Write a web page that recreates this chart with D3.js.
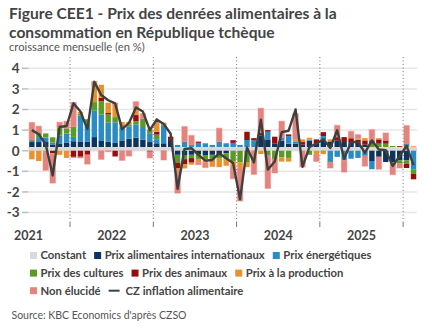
<!DOCTYPE html>
<html>
<head>
<meta charset="utf-8">
<script src="https://cdn.jsdelivr.net/npm/d3@7/dist/d3.min.js"></script>
<style>
body { margin: 0; background: #fff; }
svg { display: block; font-family: Lato, "Open Sans", sans-serif; }
</style>
</head>
<body>
<svg id="chart" width="432" height="334"></svg>
<script>
// monthly contributions to CZ food inflation, Jul 2021 - Feb 2026
var months = ['2021-07','2021-08','2021-09','2021-10','2021-11','2021-12',
    '2022-01','2022-02','2022-03','2022-04','2022-05','2022-06','2022-07','2022-08','2022-09','2022-10','2022-11','2022-12',
    '2023-01','2023-02','2023-03','2023-04','2023-05','2023-06','2023-07','2023-08','2023-09','2023-10','2023-11','2023-12',
    '2024-01','2024-02','2024-03','2024-04','2024-05','2024-06','2024-07','2024-08','2024-09','2024-10','2024-11','2024-12',
    '2025-01','2025-02','2025-03','2025-04','2025-05','2025-06','2025-07','2025-08','2025-09','2025-10','2025-11','2025-12',
    '2026-01','2026-02'];

var constant = [0.18,0.18,0.18,0.18,0.18,0.18,
    0.18,0.18,0.18,0.18,0.18,0.18,0.18,0.18,0.18,0.18,0.18,0.18,
    0.18,0.18,0.18,0.18,0.18,0.18,0.18,0.18,0.18,0.18,0.18,0.18,
    0.18,0.18,0.18,0.18,0.18,0.18,0.18,0.18,0.18,0.18,0.18,0.18,
    0.18,0.18,0.18,0.18,0.18,0.18,0.18,0.18,0.18,0.18,0.18,0.18,
    0.18,0.18];
var intlFood = [0.24,0.24,0.24,0.1,0.15,0.2,
    0.28,0.27,0.25,0.48,0.32,0.25,0.2,0.32,0.4,0.45,0.35,0.24,
    0.18,0.18,0.29,-0.2,-0.21,-0.2,-0.16,-0.21,-0.2,-0.16,-0.13,0,
    0,0,0,0.55,0.37,0.16,0.3,0.16,0.16,0.11,0.3,0.16,
    0.32,0.27,0.32,0.24,0.24,0.2,0.11,-0.5,-0.3,-0.55,-0.55,-0.47,
    -0.47,0];
var energy = [0.05,0.24,0.22,0.12,0.4,0.45,
    0.21,1.26,0.9,1.3,1.25,0.93,1.0,0.65,0.6,0.65,0.62,0.4,
    0.2,0.88,0,0.1,0.26,0.1,0.2,0.18,0.1,0.26,0.18,0.2,
    0.1,0.34,0.32,0,0.37,0,0.15,0.37,0.11,0,0.05,0,
    0.21,-0.55,-0.3,-0.47,-0.39,-0.35,-0.25,-0.4,0,0,0,0,
    0.15,-0.9];
var crops = [0.05,0.2,0.2,0.25,0.4,0.25,
    0.49,0.1,0.2,0.4,0.65,0.4,0.25,0,0.1,0.15,0.4,0.2,
    0.22,0,0,-0.38,-0.2,-0.16,-0.24,-0.2,-0.2,-0.2,-0.28,-0.5,
    -0.57,-0.55,0,0,-0.24,-0.4,-0.32,-0.35,0,0,-0.2,0,
    -0.05,0,0,0,0,0,0,0.16,0.16,0.16,0.05,-0.16,
    -0.16,-0.23];
var animals = [0,0,0,-0.12,0,0,
    -0.3,-0.3,-0.2,0,0.16,0.07,-0.28,0,0,0.3,0,-0.05,
    0.14,0,0.21,-0.26,-0.24,-0.22,0.06,0,0,0,0,0.13,
    0,0.4,0.11,0.15,0.08,0.34,0,0.08,0,0.13,0,0.21,
    0.19,0,0.16,0.24,0.19,0.15,0.21,0.16,0.21,0.16,0,0.04,
    -0.21,-0.26];
var production = [-0.42,-0.5,-0.1,-0.05,-0.2,-0.35,
    -0.05,0.07,0,0.8,0.64,0.5,0.6,0.24,0.12,0.3,0,0.05,
    0.5,0.12,0,-0.12,-0.21,-0.1,-0.16,-0.16,-0.38,-0.44,-0.32,-0.24,
    -0.32,-0.25,0,-0.16,0,0,-0.21,-0.18,0.1,0.13,0.1,-0.2,
    -0.12,0.1,0,0,0,0.05,0.11,0,0.06,0,-0.08,0,
    0,0.04];
var unexplained = [0.85,0.33,-0.85,-1.4,0.25,0.35,
    1.18,-0.05,-0.45,0.2,-0.42,-0.05,0.08,-0.47,-0.26,0.35,0.25,-0.3,
    0,-0.45,0,-1.1,0.73,0.46,-0.12,-0.25,0,0.65,0,-0.62,
    -1.55,0,-1.15,1.18,-1.59,-0.68,0.8,0,1.25,-0.79,0,-0.32,
    0,-0.29,0.57,-0.57,0.33,0.2,-0.5,0.52,-0.6,0.36,-0.53,-0.21,
    0.89,0];
var czInflation = [1.0,0.8,0.3,-1.2,1.15,1.2,
    2.3,1.9,1.05,3.35,2.7,2.45,2.3,1.05,1.35,2.1,1.9,1.0,
    1.52,1.3,0.82,-1.85,0.08,0.12,-0.2,-0.48,-0.45,-0.12,-0.37,-0.6,
    -2.36,0.15,-0.57,1.5,-0.92,-0.52,0.9,0.97,2.0,-0.79,0.18,0.34,
    0.55,0.13,0.99,-0.39,0.42,0.42,-0.1,0.5,0.06,0.02,-0.74,-0.26,
    0.23,-0.7];

var yTicks = [-3, -2, -1, 0, 1, 2, 3, 4];
var years = ['2021', '2022', '2023', '2024', '2025'];
var yearBreaks = ['2022-01', '2023-01', '2024-01', '2025-01', '2026-01'];

var seriesKeys = ['constant', 'intl', 'energy', 'crops', 'animals', 'production', 'unexplained'];
var seriesNames = ['Constant', 'Prix alimentaires internationaux', 'Prix énergétiques',
    'Prix des cultures', 'Prix des animaux', 'Prix à la production', 'Non élucidé'];
var seriesColors = ['#d9d9d9', '#0b3461', '#2a8cc2', '#5b9a25', '#960d0d', '#e8922e', '#e3847e'];
var lineName = 'CZ inflation alimentaire';

var textColor = '#444';

var rows = months.map(function(m, i) {
    return {
        month: m,
        constant: constant[i],
        intl: intlFood[i],
        energy: energy[i],
        crops: crops[i],
        animals: animals[i],
        production: production[i],
        unexplained: unexplained[i],
        total: czInflation[i]
    };
});

var svg = d3.select('#chart');

var x = d3.scaleBand().domain(months).range([28.4, 417]).paddingInner(0.22).paddingOuter(0.11);
var y = d3.scaleLinear().domain([-3.5, 4.5]).range([222.8, 58]);
var color = d3.scaleOrdinal().domain(seriesKeys).range(seriesColors);

// left edge of a month slot (between two bars)
function slotStart(m) {
    return x(m) - x.step() * 0.11;
}

// title block
var head = svg.append('g').attr('fill', textColor);
head.append('text').attr('x', 9).attr('y', 19)
    .attr('font-size', 15.6).attr('font-weight', 'bold')
    .text('Figure CEE1 - Prix des denrées alimentaires à la');
head.append('text').attr('x', 9).attr('y', 37.5)
    .attr('font-size', 15.6).attr('font-weight', 'bold')
    .text('consommation en République tchèque');
head.append('text').attr('x', 9).attr('y', 51)
    .attr('font-size', 11.2).attr('fill', '#555')
    .text('croissance mensuelle (en %)');

// gridlines + y labels
var grid = svg.append('g');
grid.selectAll('line.grid').data(yTicks).enter().append('line')
    .attr('class', 'grid')
    .attr('x1', 28.4).attr('x2', 417)
    .attr('y1', function(d) { return y(d); }).attr('y2', function(d) { return y(d); })
    .attr('stroke', '#e6e6e6').attr('stroke-width', 1.5);
grid.selectAll('line.tick').data(yTicks).enter().append('line')
    .attr('class', 'tick')
    .attr('x1', 22).attr('x2', 28.4)
    .attr('y1', function(d) { return y(d); }).attr('y2', function(d) { return y(d); })
    .attr('stroke', '#bdbdbd').attr('stroke-width', 1.5);
grid.selectAll('text').data(yTicks).enter().append('text')
    .attr('x', 19.5).attr('y', function(d) { return y(d); }).attr('dy', '0.36em')
    .attr('text-anchor', 'end').attr('font-size', 13.5).attr('font-weight', 'bold')
    .attr('fill', textColor)
    .text(function(d) { return d; });

// year separators
var xAxis = svg.append('g');
xAxis.selectAll('line.sep').data(yearBreaks).enter().append('line')
    .attr('class', 'sep')
    .attr('x1', slotStart).attr('x2', slotStart)
    .attr('y1', 57).attr('y2', 222)
    .attr('stroke', '#777').attr('stroke-width', 1).attr('stroke-dasharray', '1,2.5');
xAxis.selectAll('line.xt').data(yearBreaks).enter().append('line')
    .attr('class', 'xt')
    .attr('x1', slotStart).attr('x2', slotStart)
    .attr('y1', 222).attr('y2', 227)
    .attr('stroke', '#777').attr('stroke-width', 1);
xAxis.selectAll('text').data(years).enter().append('text')
    .attr('x', function(d) { return slotStart(d + '-07'); })
    .attr('y', 240)
    .attr('text-anchor', 'middle').attr('font-size', 12.5).attr('font-weight', 'bold')
    .attr('fill', textColor)
    .text(function(d) { return d; });

// stacked bars
var stacked = d3.stack().keys(seriesKeys).offset(d3.stackOffsetDiverging)(rows);

var bars = svg.append('g');
bars.selectAll('g').data(stacked).enter().append('g')
    .attr('fill', function(s) { return color(s.key); })
    .each(function(s) {
        var wide = s.key == 'constant';
        var g = d3.select(this).selectAll('rect').data(s.filter(function(d) { return d[1] != d[0]; }))
            .enter().append('rect')
            .attr('x', function(d) { return wide ? slotStart(d.data.month) : x(d.data.month); })
            .attr('width', wide ? x.step() + 0.2 : x.bandwidth())
            .attr('y', function(d) { return y(Math.max(d[0], d[1])); })
            .attr('height', function(d) { return Math.abs(y(d[0]) - y(d[1])); });
        if (s.key == 'unexplained') {
            g.attr('stroke', 'rgba(227,132,126,0.45)').attr('stroke-width', 1.2);
        }
    });

// inflation line
var line = d3.line()
    .x(function(d) { return x(d.month) + x.bandwidth() / 2; })
    .y(function(d) { return y(d.total); });
svg.append('path').datum(rows)
    .attr('d', line)
    .attr('fill', 'none').attr('stroke', '#3f3f3f').attr('stroke-width', 2.4)
    .attr('stroke-linejoin', 'round');

// legend, wrapped in rows
var legendItems = seriesKeys.map(function(k, i) { return { key: k, name: seriesNames[i], type: 'box' }; });
legendItems.push({ key: 'line', name: lineName, type: 'line' });

var legend = svg.append('g').attr('font-size', 11.3).attr('font-weight', 'bold').attr('fill', textColor);
var lx = 30, ly = 259.3;
legendItems.forEach(function(item) {
    var g = legend.append('g');
    var markW = item.type == 'box' ? 7 : 11;
    var gap = item.type == 'box' ? 3.5 : 6;
    if (item.type == 'box') {
        g.append('rect').attr('x', 0).attr('y', -7.3).attr('width', 7).attr('height', 7)
            .attr('fill', color(item.key));
    } else {
        g.append('line').attr('x1', 0).attr('x2', markW).attr('y1', -3.8).attr('y2', -3.8)
            .attr('stroke', '#3f3f3f').attr('stroke-width', 2);
    }
    var t = g.append('text').attr('x', markW + gap).attr('y', 0).text(item.name);
    var w = markW + gap + t.node().getComputedTextLength();
    if (lx + w > 402) {
        lx = 30;
        ly += 17.6;
    }
    g.attr('transform', 'translate(' + lx + ',' + ly + ')');
    lx += w + 8;
});

svg.append('text').attr('x', 11.5).attr('y', 319)
    .attr('font-size', 10.5).attr('fill', '#555')
    .text("Source: KBC Economics d'après CZSO");
</script>
</body>
</html>
